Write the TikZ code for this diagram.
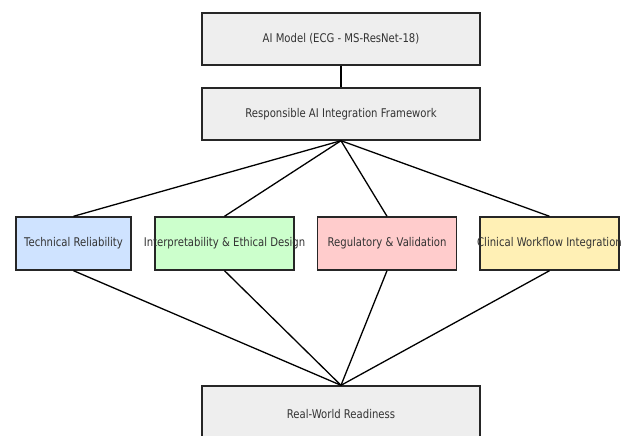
\documentclass[tikz,border=0pt]{standalone}
\usepackage{fontspec}
\setmainfont[FakeStretch=0.84]{DejaVu Sans}
\definecolor{boxgray}{HTML}{EEEEEE}
\definecolor{boxblue}{HTML}{CFE3FF}
\definecolor{boxgreen}{HTML}{CCFFCC}
\definecolor{boxred}{HTML}{FFCCCC}
\definecolor{boxyellow}{HTML}{FFF0B5}
\definecolor{txt}{HTML}{333333}
\begin{document}
\begin{tikzpicture}[x=1pt,y=-1pt,
  stagebox/.style={draw=black!85, line width=1.4pt, rectangle, inner sep=0pt},
  lbl/.style={text=txt, font=\fontsize{12}{14}\selectfont, inner sep=0pt},
  link/.style={draw=black, line width=1.3pt}]
\useasboundingbox (0,0) rectangle (622,436);
\clip (0,0) rectangle (622,436);
\fill[white] (0,0) rectangle (622,436);
% boxes
\node[stagebox, fill=boxgray, minimum width=278pt, minimum height=52pt] (model) at (341,39) {};
\node[stagebox, fill=boxgray, minimum width=278pt, minimum height=52pt] (frame) at (341,114) {};
\node[stagebox, fill=boxblue, minimum width=115pt, minimum height=53pt] (tech) at (73.5,243.5) {};
\node[stagebox, fill=boxgreen, minimum width=139pt, minimum height=53pt] (interp) at (224.5,243.5) {};
\node[stagebox, fill=boxred, minimum width=139pt, minimum height=53pt] (reg) at (387,243.5) {};
\node[stagebox, fill=boxyellow, minimum width=139pt, minimum height=53pt] (clin) at (549.5,243.5) {};
\node[stagebox, fill=boxgray, minimum width=278pt, minimum height=80pt] (ready) at (341,426) {};
% connectors
\draw[link] (model.south) -- (frame.north);
\foreach \n in {tech,interp,reg,clin}{
  \draw[link] (frame.south) -- (\n.north);
  \draw[link] (\n.south) -- (ready.north);
}
% labels
\node[lbl] (tmodel) at (model.center) {AI Model (ECG - MS-ResNet-18)};
\node[lbl] (tframe) at (frame.center) {Responsible AI Integration Framework};
\node[lbl] (ttech) at (tech.center) {Technical Reliability};
\node[lbl] (tinterp) at (interp.center) {Interpretability \& Ethical Design};
\node[lbl] (treg) at (reg.center) {Regulatory \& Validation};
\node[lbl] (tclin) at (clin.center) {Clinical Workflow Integration};
\node[lbl] (tready) at (341,414) {Real-World Readiness};
\end{tikzpicture}
\end{document}
